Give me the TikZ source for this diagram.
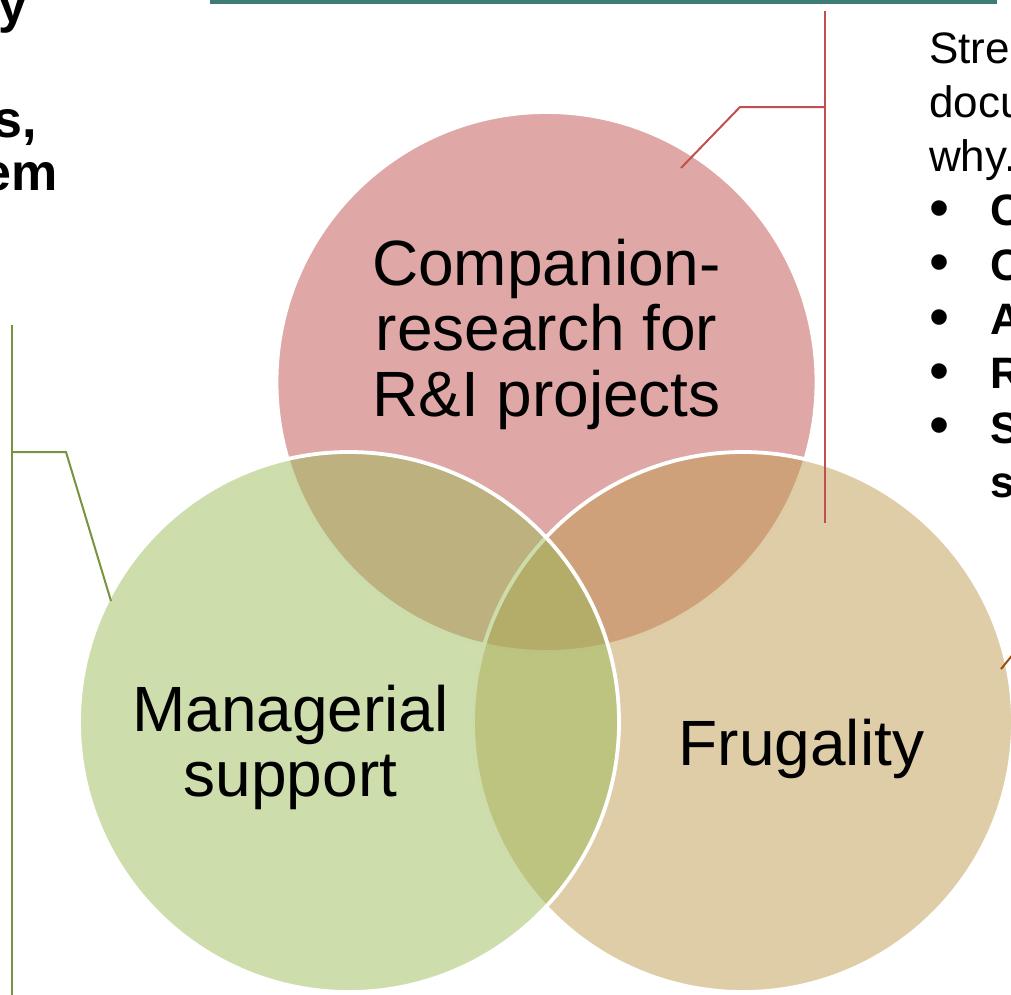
\documentclass[tikz,border=0pt]{standalone}
\usepackage{fontspec}
\setmainfont{Liberation Sans}
\definecolor{accR}{HTML}{C0504D}
\definecolor{accT}{HTML}{BF9B51}
\definecolor{accG}{HTML}{9BBB59}
\definecolor{lnR}{HTML}{C0504D}
\definecolor{lnG}{HTML}{77933C}
\definecolor{lnB}{HTML}{9C4E0E}
\definecolor{lnTeal}{HTML}{3F7B76}
\newcommand{\bulletmark}{\makebox[61.5pt][l]{\raisebox{-1.5pt}{\scalebox{1.3}{\textbullet}}}}
\begin{document}
\begin{tikzpicture}[x=1pt,y=-1pt,
  venn/.style={circle,inner sep=0pt,outer sep=0pt,minimum size=540pt,draw=white,line width=3.8pt,fill opacity=0.5,draw opacity=1},
  biglbl/.style={inner sep=0pt,font=\fontsize{64}{65}\selectfont,anchor=base},
  sidetxt/.style={inner sep=0pt,font=\fontsize{44}{54.3}\selectfont,anchor=base west},
  lefttxt/.style={inner sep=0pt,font=\fontsize{52}{53}\selectfont\bfseries,anchor=base east},
  conn/.style={line width=2pt}]
\useasboundingbox (0,0) rectangle (1011,994);
\begin{scope}
\clip (0,0) rectangle (1011,994);
% circles, drawn in the order red, tan, green
\node[venn,fill=accR] (cR) at (546.5,382) {};
\node[venn,fill=accT] (cT) at (743,722) {};
\node[venn,fill=accG] (cG) at (349,722) {};
% labels
\node[biglbl] (tR) at (546.5,285) {\begin{tabular}[t]{@{}c@{}}Companion-\\research for\\R\&I projects\end{tabular}};
\node[biglbl] (tG) at (290.5,731) {\begin{tabular}[t]{@{}c@{}}Managerial\\support\end{tabular}};
\node[biglbl] (tT) at (801.5,765) {Frugality};
% top rule
\coordinate (ruleL) at (210,2);
\coordinate (ruleR) at (997,2);
\draw[lnTeal,line width=4pt] (ruleL) -- (ruleR);
% red connector
\coordinate (rA) at (681,168);
\coordinate (rB) at (740,107);
\coordinate (rC) at (825,107);
\coordinate (rTop) at (825,11);
\coordinate (rBot) at (825,523);
\draw[conn,lnR] (rA) -- (rB) -- (rC);
\draw[conn,lnR] (rTop) -- (rBot);
% green connector
\coordinate (gA) at (111,601);
\coordinate (gB) at (66,452);
\coordinate (gC) at (12,452);
\coordinate (gTop) at (12,325);
\coordinate (gBot) at (12,1000);
\draw[conn,lnG] (gA) -- (gB) -- (gC);
\draw[conn,lnG] (gTop) -- (gBot);
% brown connector
\coordinate (bA) at (1001,669);
\coordinate (bB) at (1019,647);
\draw[conn,lnB] (bA) -- (bB);
% right text
\node[sidetxt] (rt) at (929,63) {\begin{tabular}[t]{@{}l@{}}Stre\\docu\\why.\\
\bulletmark\textbf{C}\\
\bulletmark\textbf{C}\\
\bulletmark\textbf{A}\\
\bulletmark\textbf{R}\\
\bulletmark\textbf{S}\\
\makebox[61.5pt][l]{}\textbf{s}\end{tabular}};
% left text
\node[lefttxt] (l1) at (28,22) {ty};
\node[lefttxt] (l2) at (37,137) {s,};
\node[lefttxt] (l3) at (58,190) {em};
\end{scope}
\end{tikzpicture}
\end{document}
